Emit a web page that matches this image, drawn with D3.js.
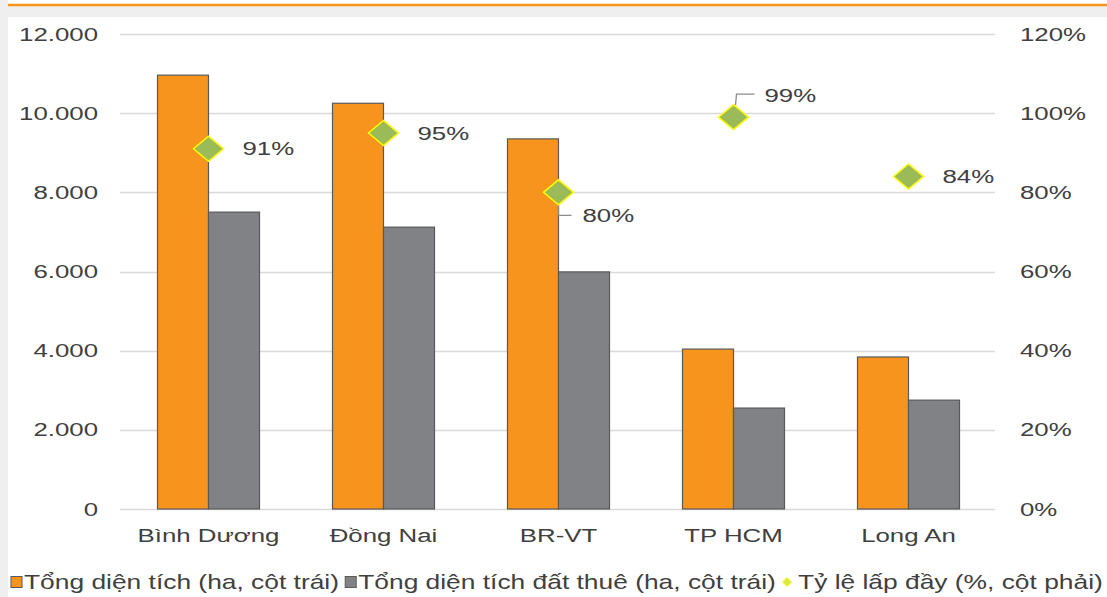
<!DOCTYPE html>
<html><head><meta charset="utf-8">
<script src="https://cdn.jsdelivr.net/npm/d3@7"></script>
<style>
html,body{margin:0;padding:0;background:#efefef;}
svg{display:block;}
text{font-family:"Liberation Sans",Arial,sans-serif;fill:#404040;}
</style></head>
<body>
<svg id="chart" width="1107" height="597"></svg>
<script>
const categories = ["Bình Dương", "Đồng Nai", "BR-VT", "TP HCM", "Long An"];
const totalArea = [10960, 10250, 9350, 4040, 3840];
const leasedArea = [7500, 7120, 5990, 2550, 2750];
const occupancy = [0.91, 0.95, 0.80, 0.99, 0.84];
const leftTicks = [0, 2000, 4000, 6000, 8000, 10000, 12000];
const rightTicks = [0, 0.2, 0.4, 0.6, 0.8, 1.0, 1.2];
const seriesNames = ["Tổng diện tích (ha, cột trái)", "Tổng diện tích đất thuê (ha, cột trái)", "Tỷ lệ lấp đầy (%, cột phải)"];

const W = 1107, H = 597;
const SX = 1.36;      // horizontal stretch of text in the reference
const svg = d3.select("#chart");
// background panels
svg.append("rect").attr("x", 8).attr("y", 0).attr("width", W - 8).attr("height", 5).attr("fill", "#fff");
svg.append("rect").attr("x", 8).attr("y", 17).attr("width", W - 8).attr("height", H - 17).attr("fill", "#fff");
svg.append("line").attr("x1", 8).attr("x2", W).attr("y1", 5).attr("y2", 5).attr("stroke", "#f7941d").attr("stroke-width", 2.5);

const x0 = 121, x1 = 996, yTop = 34, yBot = 509;
const x = d3.scaleBand().domain(categories).range([x0, x1]).paddingInner(0.417).paddingOuter(0.2085);
const xs = d3.scaleBand().domain([0, 1]).range([0, x.bandwidth()]);
const yL = d3.scaleLinear().domain([0, 12000]).range([yBot, yTop]);
const yR = d3.scaleLinear().domain([0, 1.2]).range([yBot, yTop]);

// gridlines
svg.append("g").selectAll("line").data(leftTicks).join("line")
  .attr("x1", x0 - 1).attr("x2", x1 - 1)
  .attr("y1", d => Math.round(yL(d)) + 0.5).attr("y2", d => Math.round(yL(d)) + 0.5)
  .attr("stroke", "#d9d9d9").attr("stroke-width", 1.5);

function styleAxisText(sel) {
  sel.attr("font-size", 19).attr("fill", "#404040")
    .attr("font-family", "Liberation Sans, Arial, sans-serif")
    .attr("transform", `scale(${SX},1)`);
}

// left axis
const fmtL = d => d === 0 ? "0" : d3.format(",")(d).replace(/,/g, ".");
const gL = svg.append("g").attr("transform", `translate(98,0)`)
  .call(d3.axisLeft(yL).tickValues(leftTicks).tickFormat(fmtL).tickSize(0).tickPadding(0));
gL.select(".domain").remove();
styleAxisText(gL.selectAll("text"));

// right axis
const gR = svg.append("g").attr("transform", `translate(1020,0)`)
  .call(d3.axisRight(yR).tickValues(rightTicks).tickFormat(d3.format(".0%")).tickSize(0).tickPadding(0));
gR.select(".domain").remove();
styleAxisText(gR.selectAll("text"));

// bars
const colors = ["#f7941d", "#808285"];
[totalArea, leasedArea].forEach((vals, si) => {
  svg.append("g").selectAll("rect").data(vals).join("rect")
    .attr("x", (d, i) => x(categories[i]) + xs(si))
    .attr("y", d => yL(d))
    .attr("width", xs.bandwidth())
    .attr("height", d => yBot - yL(d))
    .attr("fill", colors[si]).attr("stroke", "#595959").attr("stroke-width", 1.2);
});

// x axis labels
const gX = svg.append("g").attr("transform", `translate(0,${yBot + 19})`)
  .call(d3.axisBottom(x).tickSize(0).tickPadding(0));
gX.select(".domain").remove();
styleAxisText(gX.selectAll("text"));
gX.selectAll("text").attr("dy", "0.75em");

// leader lines
const cx = i => x(categories[i]) + x.bandwidth() / 2;
const leaders = [
  {i: 2, pts: [[0, 0], [0, 23], [13, 23]]},
  {i: 3, pts: [[2, -12], [3, -23], [21, -23]]}
];
leaders.forEach(l => {
  svg.append("path")
    .attr("d", d3.line()(l.pts.map(p => [cx(l.i) + p[0], yR(occupancy[l.i]) + p[1]])))
    .attr("fill", "none").attr("stroke", "#8c8c8c").attr("stroke-width", 1.3);
});

// markers
const diamond = (cxv, cyv, w, h) => `M${cxv},${cyv - h}L${cxv + w},${cyv}L${cxv},${cyv + h}L${cxv - w},${cyv}Z`;
svg.append("g").selectAll("path").data(occupancy).join("path")
  .attr("d", (d, i) => diamond(cx(i), yR(d), 15, 12.5))
  .attr("fill", "#9bbb59").attr("stroke", "#ffff00").attr("stroke-width", 1.5);

// data labels
const labelOff = [[34, 0], [34, 0], [24, 23], [31, -22], [34, 0]];
svg.append("g").selectAll("g").data(occupancy).join("g")
  .attr("transform", (d, i) => `translate(${cx(i) + labelOff[i][0]},${yR(d) + labelOff[i][1]}) scale(${SX},1)`)
  .append("text")
  .attr("dy", "0.35em")
  .attr("font-size", 19)
  .text(d => d3.format(".0%")(d));

// legend: measure natural widths, then stretch to fill 11..1103
const ly = 582, legStart = 11, legEnd = 1103;
const leg = svg.append("g");
const probe = leg.append("text").attr("font-size", 20);
const natW = seriesNames.map(n => { probe.text(n); return probe.node().getComputedTextLength(); });
probe.remove();
const fixedW = (13 + 6) * 2 + 16;
const SXL = (legEnd - legStart - fixedW) / d3.sum(natW);
let lx = legStart;
seriesNames.forEach((name, si) => {
  if (si < 2) {
    leg.append("rect").attr("x", lx).attr("y", ly - 5.5).attr("width", 11).attr("height", 11)
      .attr("fill", colors[si]).attr("stroke", "#595959").attr("stroke-width", 1);
    lx += 13;
  } else {
    leg.append("path").attr("d", diamond(lx + 5, ly, 4.5, 4.5)).attr("fill", "#d8e84a").attr("stroke", "#ffff00").attr("stroke-width", 1);
    lx += 16;
  }
  leg.append("g").attr("transform", `translate(${lx},${ly}) scale(${SXL},1)`)
    .append("text").attr("dy", "0.35em").attr("font-size", 20).text(name);
  lx += natW[si] * SXL + 6;
});
</script>
</body></html>
